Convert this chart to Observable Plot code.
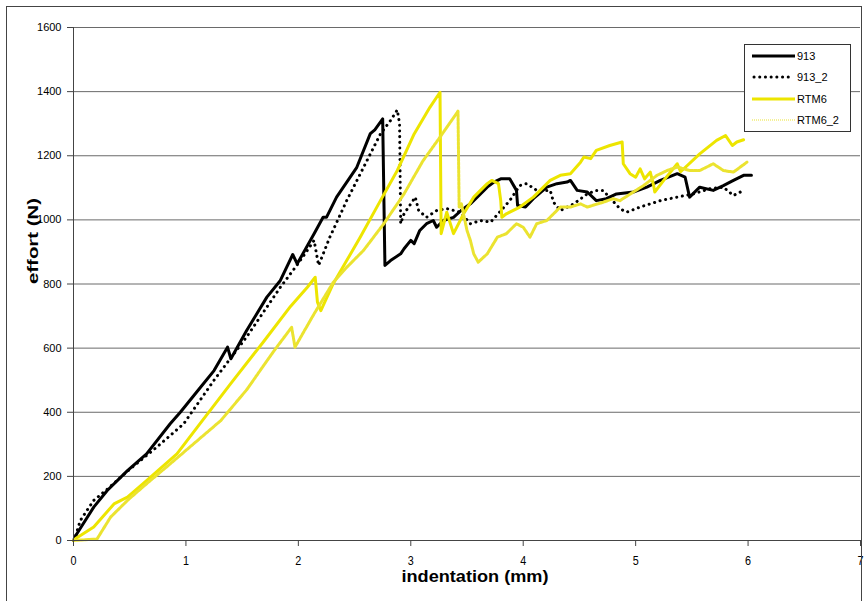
<!DOCTYPE html>
<html><head><meta charset="utf-8">
<script src="https://cdn.jsdelivr.net/npm/d3@7"></script>
<script src="https://cdn.jsdelivr.net/npm/@observablehq/plot@0.6"></script>
<style>
body{margin:0;background:#fff;}
#wrap{position:relative;width:864px;height:601px;overflow:hidden;font-family:"Liberation Sans",Arial,sans-serif;}
#wrap svg{position:absolute;left:0;top:0;}
#border{position:absolute;left:6px;top:6px;width:854px;height:620px;border:1px solid #444;pointer-events:none;}
#legend{position:absolute;left:744px;top:44px;width:105px;height:86px;border:1px solid #333;background:#fff;font-size:11px;color:#000;}
#legend .row{position:absolute;left:7px;height:12px;display:flex;align-items:center;}
#legend .row svg{position:static;}
#legend .row span{margin-left:2px;line-height:12px;}
</style></head>
<body>
<div id="wrap"><div id="border"></div></div>
<script>
// ---- data (indentation mm, effort N) ----
const seriesNames = ["913", "913_2", "RTM6", "RTM6_2"];
const xTicks = [0, 1, 2, 3, 4, 5, 6, 7];
const yTicks = [0, 200, 400, 600, 800, 1000, 1200, 1400, 1600];
const xTitle = "indentation (mm)";
const yTitle = "effort (N)";

const s913 = [[0,0],[0.03,21],[0.18,104],[0.30,156],[0.48,218],[0.65,270],[0.86,364],[0.95,400],[1.13,478],[1.25,530],[1.37,603],[1.40,567],[1.54,655],[1.72,759],[1.84,811],[1.95,892],[1.99,863],[2.14,957],[2.22,1008],[2.25,1008],[2.34,1071],[2.52,1164],[2.64,1269],[2.68,1281],[2.75,1315],[2.77,858],[2.82,873],[2.91,894],[2.94,910],[3.00,936],[3.03,926],[3.08,967],[3.14,988],[3.20,998],[3.23,977],[3.29,998],[3.38,1008],[3.45,1030],[3.53,1050],[3.62,1081],[3.68,1102],[3.74,1118],[3.80,1128],[3.88,1128],[3.94,1092],[3.95,1045],[4.02,1040],[4.09,1066],[4.21,1102],[4.30,1113],[4.39,1118],[4.42,1123],[4.48,1092],[4.57,1087],[4.65,1060],[4.74,1066],[4.83,1081],[4.98,1087],[5.10,1102],[5.22,1123],[5.37,1144],[5.44,1133],[5.48,1071],[5.57,1102],[5.69,1092],[5.78,1107],[5.87,1123],[5.96,1139],[6.03,1139]];

const s913_2 = [[0,0],[0.02,16],[0.06,62],[0.12,94],[0.18,125],[0.30,160],[0.50,222],[0.74,291],[0.98,364],[1.25,500],[1.54,635],[1.84,790],[1.99,860],[2.08,905],[2.14,936],[2.18,858],[2.28,946],[2.43,1060],[2.58,1164],[2.73,1268],[2.82,1310],[2.88,1343],[2.90,1300],[2.91,988],[2.94,1019],[3.00,1050],[3.04,1071],[3.07,1029],[3.14,1008],[3.23,1029],[3.32,1035],[3.44,1024],[3.53,988],[3.62,998],[3.71,993],[3.83,1040],[3.88,1060],[3.97,1107],[4.03,1113],[4.12,1092],[4.24,1092],[4.27,1055],[4.33,1029],[4.45,1050],[4.57,1081],[4.65,1092],[4.71,1092],[4.86,1035],[4.92,1024],[5.04,1040],[5.22,1060],[5.37,1071],[5.51,1081],[5.66,1097],[5.78,1102],[5.87,1076],[5.96,1092]];

const rtm6 = [[0,0],[0.02,6],[0.18,42],[0.36,114],[0.48,135],[0.65,187],[0.92,270],[1.10,353],[1.40,490],[1.69,620],[1.93,730],[2.08,790],[2.15,821],[2.17,743],[2.20,717],[2.31,801],[2.43,873],[2.55,946],[2.73,1060],[2.88,1154],[3.03,1268],[3.17,1351],[3.26,1398],[3.27,957],[3.32,1024],[3.38,957],[3.47,1019],[3.56,1071],[3.68,1113],[3.72,1123],[3.78,1113],[3.80,1060],[3.81,1008],[3.85,1019],[3.97,1040],[4.09,1071],[4.24,1123],[4.33,1139],[4.42,1144],[4.51,1180],[4.54,1196],[4.60,1191],[4.65,1217],[4.77,1232],[4.88,1243],[4.89,1175],[4.95,1144],[5.00,1133],[5.04,1159],[5.08,1128],[5.13,1149],[5.16,1107],[5.17,1087],[5.25,1123],[5.37,1175],[5.40,1150],[5.57,1206],[5.72,1248],[5.80,1263],[5.86,1232],[5.90,1243],[5.96,1250]];

const rtm6_2 = [[0,0],[0.10,2],[0.21,5],[0.33,73],[0.48,125],[0.65,177],[0.86,239],[1.07,302],[1.31,374],[1.54,470],[1.78,590],[1.94,665],[1.97,603],[2.14,707],[2.31,805],[2.43,852],[2.58,905],[2.76,988],[2.94,1081],[3.11,1185],[3.26,1258],[3.42,1339],[3.43,1040],[3.45,1050],[3.50,967],[3.53,936],[3.56,894],[3.60,868],[3.68,894],[3.77,946],[3.85,957],[3.94,988],[4.00,977],[4.06,946],[4.12,988],[4.21,998],[4.27,1019],[4.33,1040],[4.42,1040],[4.51,1050],[4.57,1040],[4.71,1055],[4.80,1066],[4.86,1060],[4.98,1087],[5.07,1107],[5.19,1139],[5.28,1154],[5.37,1165],[5.48,1154],[5.57,1154],[5.69,1175],[5.78,1154],[5.87,1149],[5.99,1180]];

// ---- styles ----
const styles = [
  {stroke:"#000000", strokeWidth:3},
  {stroke:"#000000", strokeWidth:3, strokeDasharray:"0.1,5.6", strokeLinecap:"round"},
  {stroke:"#ede500", strokeWidth:3},
  {stroke:"#ebe330", strokeWidth:3, strokeDasharray:"3,1"}
];
const allSeries = [s913, s913_2, rtm6, rtm6_2];
const rows = (pts) => pts.map(([x, y]) => ({x, y}));

const chart = Plot.plot({
  width: 864, height: 601,
  marginLeft: 73, marginRight: 4, marginTop: 27, marginBottom: 61,
  style: {fontFamily: '"Liberation Sans", Arial, sans-serif', fontSize: "11px", color: "#000", background: "transparent", overflow: "visible"},
  x: {domain: [0, 7]},
  y: {domain: [0, 1600]},
  marks: [
    Plot.gridY(yTicks, {stroke: "#6a6a6a", strokeOpacity: 1}),
    ...allSeries.map((s, i) => Plot.line(rows(s), {x: "x", y: "y", strokeLinejoin: "round", ...styles[i]})),
    Plot.ruleX([0], {stroke: "#444"}),
    Plot.ruleY([0], {stroke: "#444"}),
    Plot.axisY(yTicks, {tickSize: 6, tickPadding: 6, fontSize: 11, label: null, stroke: "#444", tickFormat: d => String(d)}),
    Plot.axisX(xTicks, {tickSize: 6, tickPadding: 9, fontSize: 13, label: null, stroke: "#444", tickFormat: d => String(d)}),
    Plot.text([yTitle], {text: d => d, frameAnchor: "left", dx: -40, rotate: -90, fontWeight: "bold", fontSize: 15}),
    Plot.text([xTitle], {text: d => d, frameAnchor: "bottom", dy: 41, dx: 8, fontWeight: "bold", fontSize: 17})
  ]
});
const wrap = document.getElementById("wrap");
wrap.insertBefore(chart, wrap.firstChild);

// condense / stretch text like the original rendering
chart.querySelectorAll("text").forEach(t => {
  const s = t.textContent;
  if (s === xTitle) { t.setAttribute("textLength", "147"); t.setAttribute("lengthAdjust", "spacingAndGlyphs"); }
  else if (s === yTitle) { t.setAttribute("textLength", "86"); t.setAttribute("lengthAdjust", "spacingAndGlyphs"); }
});
chart.querySelectorAll('g[aria-label="x-axis tick label"] text').forEach(t => {
  t.setAttribute("textLength", "6"); t.setAttribute("lengthAdjust", "spacingAndGlyphs");
});

// ---- legend ----
const legend = document.createElement("div");
legend.id = "legend";
const rowTops = [5, 26, 48, 69];
seriesNames.forEach((name, i) => {
  const r = document.createElement("div");
  r.className = "row";
  r.style.top = rowTops[i] + "px";
  const st = styles[i];
  const sw = i === 3 ? 1 : st.strokeWidth;
  const dash = i === 3 ? "1,1" : (st.strokeDasharray || "");
  r.innerHTML = `<svg width="43" height="8"><line x1="${i===1?2:0}" y1="4" x2="${i===1?41:43}" y2="4" stroke="${st.stroke}" stroke-width="${sw}" ${dash ? `stroke-dasharray="${dash}"` : ""} ${st.strokeLinecap ? `stroke-linecap="${st.strokeLinecap}"` : ""}/></svg><span>${name}</span>`;
  legend.appendChild(r);
});
wrap.appendChild(legend);
</script>
</body></html>
